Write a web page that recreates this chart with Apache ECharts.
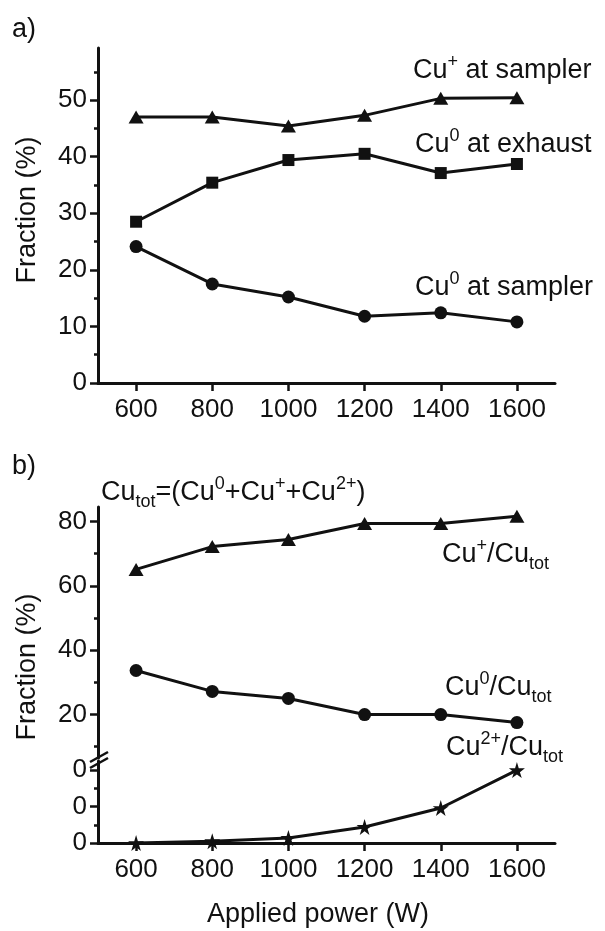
<!DOCTYPE html>
<html>
<head>
<meta charset="utf-8">
<title>Cu fractions vs applied power</title>
<script src="https://cdn.jsdelivr.net/npm/echarts@6.0.0/dist/echarts.min.js"></script>
<style>
  html, body { margin: 0; padding: 0; background: #fff; }
  #chart { width: 605px; height: 931px; }
</style>
</head>
<body>
<div id="chart"></div>
<script>
// 横坐标：功率 (W)
const powers = [600, 800, 1000, 1200, 1400, 1600];

// a) 图数据
const cuPlusSampler = [47.0, 47.0, 45.4, 47.3, 50.3, 50.4];
const cu0Exhaust = [28.5, 35.4, 39.4, 40.5, 37.1, 38.7];
const cu0Sampler = [24.1, 17.5, 15.2, 11.8, 12.4, 10.8];

// b) 图数据
const cuPlusTot = [65.1, 72.2, 74.4, 79.4, 79.4, 81.6];
const cu0Tot = [33.7, 27.2, 25.0, 20.0, 20.0, 17.5];
const cu2Tot = [0, 0.05, 0.14, 0.44, 0.96, 2.0];

// 刻度
const xTicks = [600, 800, 1000, 1200, 1400, 1600];
const aTicks = [0, 10, 20, 30, 40, 50];
const aMinor = [5, 15, 25, 35, 45, 55];
const bTicks = [20, 40, 60, 80];
const bMinor = [10, 30, 50, 70];
const lowTicks = [0, 1, 2];
const lowMinor = [0.5, 1.5];
const lowLabels = ['0', '0', '0'];

const FONT = '"Liberation Sans", Arial, sans-serif';
const INK = '#111';
const TICK_FS = 26;
const TEXT_FS = 27;
const STAR = 'path://M50,0 L61,35 L98,35 L68,57 L79,91 L50,70 L21,91 L32,57 L2,35 L39,35 Z';

function pairs(ys) {
  return powers.map((p, i) => [p, ys[i]]);
}

function xAxisOf(grid, show) {
  return {
    gridIndex: grid,
    type: 'value',
    min: 500,
    max: 1700,
    show: show,
    axisLine: { lineStyle: { color: INK, width: 3 } },
    axisTick: { customValues: xTicks, length: 8, lineStyle: { color: INK, width: 2.5 } },
    axisLabel: {
      customValues: xTicks, fontFamily: FONT, fontSize: TICK_FS, color: INK, margin: 14,
      formatter: v => String(v)
    },
    splitLine: { show: false }
  };
}

function yMajor(grid, min, max, ticks, fmt) {
  return {
    gridIndex: grid,
    type: 'value',
    position: 'left',
    min: min,
    max: max,
    axisLine: { show: true, lineStyle: { color: INK, width: 3 } },
    axisTick: { show: true, customValues: ticks, length: 8, lineStyle: { color: INK, width: 2.5 } },
    axisLabel: {
      customValues: ticks, fontFamily: FONT, fontSize: TICK_FS, color: INK, margin: 11,
      formatter: fmt || (v => String(v))
    },
    splitLine: { show: false }
  };
}

function yMinor(grid, min, max, ticks) {
  return {
    gridIndex: grid,
    type: 'value',
    position: 'left',
    min: min,
    max: max,
    axisLine: { show: false },
    axisTick: { show: true, customValues: ticks, length: 4, lineStyle: { color: INK, width: 2.5 } },
    axisLabel: { show: false },
    splitLine: { show: false }
  };
}

function line(xi, yi, data, symbol, size) {
  return {
    type: 'line',
    xAxisIndex: xi,
    yAxisIndex: yi,
    data: pairs(data),
    symbol: symbol,
    symbolSize: size,
    lineStyle: { color: INK, width: 3 },
    itemStyle: { color: INK },
    z: 5
  };
}

// 富文本：上标、下标
const rich = {
  n: { fontFamily: FONT, fontSize: TEXT_FS, color: INK, lineHeight: 36 },
  sup: { fontFamily: FONT, fontSize: 18, color: INK, lineHeight: 15, verticalAlign: 'top' },
  sub: { fontFamily: FONT, fontSize: 18, color: INK, lineHeight: 15, verticalAlign: 'bottom' }
};

function label(x, y, text) {
  return {
    type: 'text',
    x: x,
    y: y,
    style: { text: text, rich: rich, verticalAlign: 'middle', align: 'left', fill: INK }
  };
}

const option = {
  backgroundColor: '#fff',
  animation: false,
  grid: [
    { left: 98, top: 48, width: 457, height: 335 },
    { left: 98, top: 507, width: 457, height: 251 },
    { left: 98, top: 761, width: 457, height: 82 }
  ],
  xAxis: [
    xAxisOf(0, true),
    xAxisOf(1, false),
    xAxisOf(2, true)
  ],
  yAxis: [
    yMajor(0, 0, 59.2, aTicks),
    yMinor(0, 0, 59.2, aMinor),
    yMajor(1, 6.5, 84.5, bTicks),
    yMinor(1, 6.5, 84.5, bMinor),
    yMajor(2, 0, 2.25, lowTicks, v => lowLabels[lowTicks.indexOf(v)] || ''),
    yMinor(2, 0, 2.25, lowMinor)
  ],
  series: [
    line(0, 0, cuPlusSampler, 'triangle', [15, 13]),
    line(0, 0, cu0Exhaust, 'rect', 12),
    line(0, 0, cu0Sampler, 'circle', 13),
    line(1, 2, cuPlusTot, 'triangle', [15, 13]),
    line(1, 2, cu0Tot, 'circle', 13),
    line(2, 4, cu2Tot, STAR, 16)
  ],
  graphic: [
    { type: 'text', x: 12, y: 30, style: { text: 'a)', font: TEXT_FS + 'px ' + FONT, fill: INK, verticalAlign: 'middle' } },
    { type: 'text', x: 12, y: 467, style: { text: 'b)', font: TEXT_FS + 'px ' + FONT, fill: INK, verticalAlign: 'middle' } },
    // 坐标标题
    { type: 'text', x: 28, y: 210, rotation: Math.PI / 2,
      style: { text: 'Fraction (%)', font: TEXT_FS + 'px ' + FONT, fill: INK, align: 'center', verticalAlign: 'middle' } },
    { type: 'text', x: 28, y: 667, rotation: Math.PI / 2,
      style: { text: 'Fraction (%)', font: TEXT_FS + 'px ' + FONT, fill: INK, align: 'center', verticalAlign: 'middle' } },
    { type: 'text', x: 318, y: 915,
      style: { text: 'Applied power (W)', font: TEXT_FS + 'px ' + FONT, fill: INK, align: 'center', verticalAlign: 'middle' } },
    // 曲线注释
    label(413, 71, '{n|Cu}{sup|+}{n| at sampler}'),
    label(415, 145, '{n|Cu}{sup|0}{n| at exhaust}'),
    label(415, 288, '{n|Cu}{sup|0}{n| at sampler}'),
    label(101, 493, '{n|Cu}{sub|tot}{n|=(Cu}{sup|0}{n|+Cu}{sup|+}{n|+Cu}{sup|2+}{n|)}'),
    label(442, 555, '{n|Cu}{sup|+}{n|/Cu}{sub|tot}'),
    label(445, 688, '{n|Cu}{sup|0}{n|/Cu}{sub|tot}'),
    label(446, 748, '{n|Cu}{sup|2+}{n|/Cu}{sub|tot}'),
    // 断轴标记
    { type: 'line', shape: { x1: 90, y1: 762, x2: 108, y2: 752 }, style: { stroke: INK, lineWidth: 2.5 } },
    { type: 'line', shape: { x1: 90, y1: 768, x2: 108, y2: 758 }, style: { stroke: INK, lineWidth: 2.5 } }
  ]
};

const myChart = echarts.init(document.getElementById('chart'));
myChart.setOption(option);
</script>
</body>
</html>
